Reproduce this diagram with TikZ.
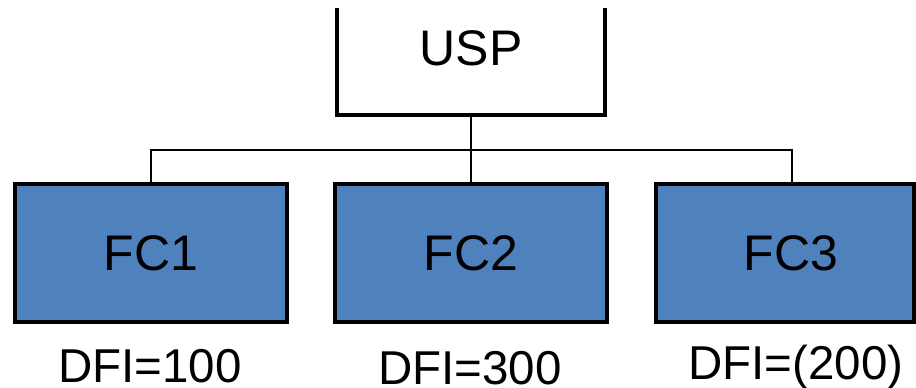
\documentclass[tikz,border=0pt]{standalone}
\usepackage{fontspec}
\setmainfont{Liberation Sans}
\definecolor{fcblue}{HTML}{4F81BD}
\begin{document}
\begin{tikzpicture}[x=1pt,y=-1pt,
  big/.style={font=\fontsize{50}{60}\selectfont},
  fcbox/.style={big, draw=black, line width=4pt, fill=fcblue, minimum width=272pt, minimum height=138pt, inner sep=0pt},
  lab/.style={big, inner sep=0pt, anchor=base},
  dfi/.style={lab, font=\fontsize{47.5}{57}\selectfont},
  conn/.style={line width=1.8pt}]
\useasboundingbox (0,0) rectangle (916,388);
% USP box (open at the top)
\draw[line width=4pt] (337,8) -- (337,115) -- (605,115) -- (605,8);
\node[lab] (usp) at (471,65) {USP};
\coordinate (uspb) at (471,115);
% FC boxes
\node[fcbox] (fc1) at (151,253) {FC1};
\node[fcbox] (fc2) at (471,253) {FC2};
\node[fcbox, minimum width=258pt] (fc3) at (785,253) {\hspace*{12pt}FC3};
% connectors
\coordinate (j) at (471,150);
\coordinate (d3) at (792,184);
\draw[conn] (uspb) -- (fc2.north);
\draw[conn] (fc1.north) |- (j) -| (d3);
% labels
\node[dfi] (l1) at (150,382) {DFI=100};
\node[dfi] (l2) at (470,384) {DFI=300};
\node[dfi] (l3) at (796,379) {DFI=(200)};
\end{tikzpicture}
\end{document}
